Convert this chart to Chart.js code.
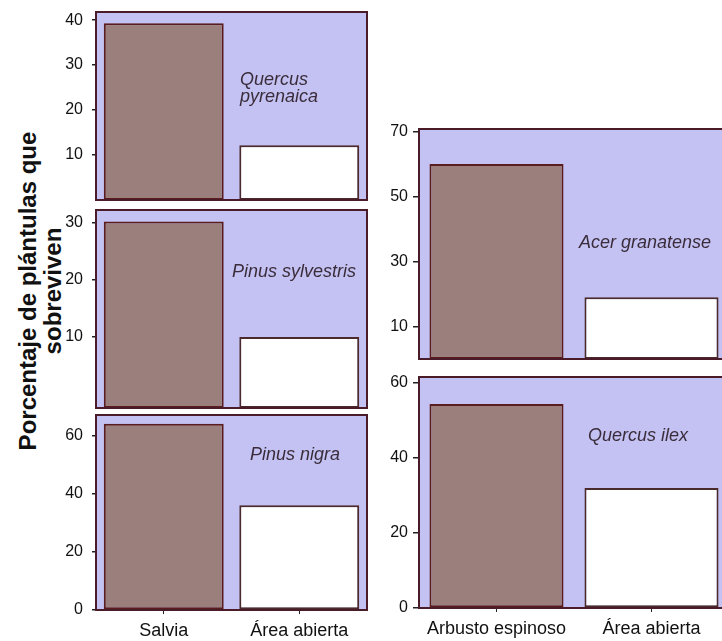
<!DOCTYPE html>
<html>
<head>
<meta charset="utf-8">
<script src="https://cdn.jsdelivr.net/npm/chart.js@4/dist/chart.umd.min.js"></script>
<style>
  html, body { margin: 0; padding: 0; background: #fff; width: 722px; height: 641px; overflow: hidden; }
  .panel { position: absolute; }
  #y-title {
    position: absolute; left: -130px; top: 266px; width: 340px; height: 50px;
    transform: rotate(-90deg); text-align: center;
    font: bold 24px "Liberation Sans", Arial, sans-serif; line-height: 25px; color: #111;
  }
</style>
</head>
<body>
<div id="y-title">Porcentaje de plántulas que<br>sobreviven</div>
<div class="panel" style="left:56px;top:0px"><canvas id="c-pyrenaica" width="314" height="204"></canvas></div>
<div class="panel" style="left:56px;top:204px"><canvas id="c-sylvestris" width="314" height="208"></canvas></div>
<div class="panel" style="left:56px;top:412px"><canvas id="c-nigra" width="314" height="229"></canvas></div>
<div class="panel" style="left:380px;top:120px"><canvas id="c-granatense" width="352" height="243"></canvas></div>
<div class="panel" style="left:380px;top:366px"><canvas id="c-ilex" width="352" height="275"></canvas></div>
<script>
// categorías
const leftCategories = ['Salvia', 'Área abierta'];
const rightCategories = ['Arbusto espinoso', 'Área abierta'];

// % de plántulas que sobreviven
const pyrenaicaValues = [39.3, 12.2];
const sylvestrisValues = [30.3, 10.0];
const nigraValues = [64.0, 36.0];
const granatenseValues = [60.0, 19.0];
const ilexValues = [54.4, 32.0];

// marcas del eje y
const pyrenaicaTicks = [10, 20, 30, 40];
const sylvestrisTicks = [10, 20, 30];
const nigraTicks = [0, 20, 40, 60];
const granatenseTicks = [10, 30, 50, 70];
const ilexTicks = [0, 20, 40, 60];

const FONT = '"Liberation Sans", Arial, sans-serif';
const PANEL_BG = '#c3c2f2';
const PANEL_BORDER = '#4a1c2a';

// fondo lila y marco de cada panel, más el nombre de la especie
const panelPlugin = {
    id: 'panelBox',
    beforeDatasetsDraw(chart) {
        const { ctx, chartArea: a } = chart;
        ctx.save();
        ctx.fillStyle = PANEL_BG;
        ctx.fillRect(a.left, a.top, a.right - a.left, a.bottom - a.top);
        ctx.restore();
    },
    afterDatasetsDraw(chart) {
        const { ctx, chartArea: a } = chart;
        const opts = chart.options.plugins.panelBox || {};
        ctx.save();
        ctx.strokeStyle = PANEL_BORDER;
        ctx.lineWidth = 2;
        ctx.strokeRect(a.left, a.top, a.right - a.left, a.bottom - a.top);
        if (opts.lines) {
            ctx.fillStyle = '#3a2c3a';
            ctx.font = 'italic 18px ' + FONT;
            ctx.textBaseline = 'middle';
            ctx.textAlign = 'left';
            const x = a.left + opts.fx * (a.right - a.left);
            const y = a.top + opts.fy * (a.bottom - a.top);
            opts.lines.forEach((line, i) => ctx.fillText(line, x, y + i * 17));
        }
        ctx.restore();
    }
};

function makePanel(canvasId, categories, values, yMin, yMax, yTicks, cfg) {
    const ctx = document.getElementById(canvasId).getContext('2d');
    return new Chart(ctx, {
        type: 'bar',
        data: {
            labels: categories,
            datasets: [{
                data: values,
                base: yMin,
                backgroundColor: ['#9b7f7c', '#ffffff'],
                borderColor: ['#5a1c1c', '#4a2a2a'],
                borderWidth: 2,
                borderSkipped: false,
                categoryPercentage: 1.0,
                barPercentage: cfg.barPct
            }]
        },
        options: {
            responsive: false,
            animation: false,
            layout: { padding: cfg.padding },
            plugins: {
                legend: { display: false },
                tooltip: { enabled: false },
                panelBox: { lines: cfg.lines, fx: cfg.fx, fy: cfg.fy }
            },
            scales: {
                x: {
                    type: 'category',
                    display: cfg.showX,
                    border: { display: false },
                    grid: { offset: false, drawOnChartArea: false, drawTicks: true, tickLength: 4, color: '#222' },
                    ticks: { color: '#111', padding: 6, font: { family: FONT, size: 18 } },
                    afterFit: (scale) => {
                        scale.height = cfg.xHeight || 0;
                        scale.paddingLeft = 0;
                        scale.paddingRight = 0;
                    }
                },
                y: {
                    min: yMin,
                    max: yMax,
                    border: { display: false },
                    grid: { drawOnChartArea: false, drawTicks: true, tickLength: cfg.tickLen, color: '#222', lineWidth: 1.5 },
                    ticks: { color: '#111', padding: cfg.tickPad, font: { family: FONT, size: 16 } },
                    afterBuildTicks: (scale) => { scale.ticks = yTicks.map(v => ({ value: v })); },
                    afterFit: (scale) => {
                        scale.width = cfg.yWidth;
                        scale.paddingTop = 0;
                        scale.paddingBottom = 0;
                    }
                }
            }
        },
        plugins: [panelPlugin]
    });
}

const leftCfg = { yWidth: 40, tickLen: 4, tickPad: 9, barPct: 0.885 };
const rightCfg = { yWidth: 39, tickLen: 6, tickPad: 5, barPct: 0.865 };

makePanel('c-pyrenaica', leftCategories, pyrenaicaValues, 0, 41.8, pyrenaicaTicks, {
    ...leftCfg, showX: false, padding: { top: 12, bottom: 4, left: 0, right: 3 },
    lines: ['Quercus', 'pyrenaica'], fx: 0.531, fy: 0.36
});
makePanel('c-sylvestris', leftCategories, sylvestrisValues, -2.5, 32.3, sylvestrisTicks, {
    ...leftCfg, showX: false, padding: { top: 6, bottom: 4, left: 0, right: 3 },
    lines: ['Pinus sylvestris'], fx: 0.502, fy: 0.313
});
makePanel('c-nigra', leftCategories, nigraValues, 0, 67, nigraTicks, {
    ...leftCfg, showX: true, xHeight: 29, padding: { top: 3, bottom: 2, left: 0, right: 3 },
    lines: ['Pinus nigra'], fx: 0.568, fy: 0.205
});
makePanel('c-granatense', rightCategories, granatenseValues, 0, 70.8, granatenseTicks, {
    ...rightCfg, showX: false, padding: { top: 9, bottom: 4, left: 0, right: 3 },
    lines: ['Acer granatense'], fx: 0.516, fy: 0.496
});
makePanel('c-ilex', rightCategories, ilexValues, 0, 61.6, ilexTicks, {
    ...rightCfg, showX: true, xHeight: 31, padding: { top: 11, bottom: 2, left: 0, right: 3 },
    lines: ['Quercus ilex'], fx: 0.545, fy: 0.255
});
</script>
</body>
</html>
